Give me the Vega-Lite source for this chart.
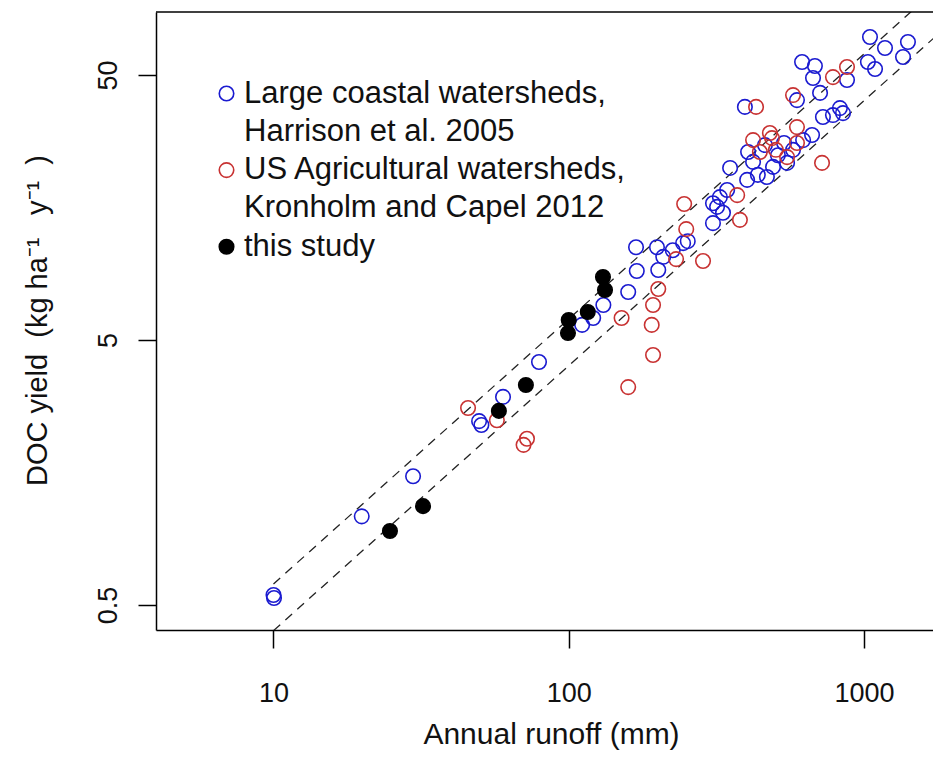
{
  "$schema": "https://vega.github.io/schema/vega-lite/v6.json",
  "width": 777,
  "height": 618,
  "autosize": {"type": "none"},
  "padding": {"left": 156, "top": 12, "right": 0, "bottom": 134},
  "background": "white",
  "config": {
    "view": {"stroke": null},
    "font": "Liberation Sans",
    "axis": {"grid": false, "domainColor": "#000", "domainWidth": 1.5, "tickColor": "#000", "tickWidth": 1.5, "tickSize": 18, "labelFont": "Liberation Sans", "labelFontSize": 27, "labelColor": "#111", "titleFont": "Liberation Sans", "titleFontSize": 29, "titleFontWeight": "normal", "titleColor": "#111", "labelFlush": false, "labelOverlap": false}
  },
  "datasets": {
    "points": [
      {"runoff": 10, "yield": 0.545, "source": "Large coastal watersheds, Harrison et al. 2005"},
      {"runoff": 10.04, "yield": 0.531, "source": "Large coastal watersheds, Harrison et al. 2005"},
      {"runoff": 19.9, "yield": 1.08, "source": "Large coastal watersheds, Harrison et al. 2005"},
      {"runoff": 29.7, "yield": 1.53, "source": "Large coastal watersheds, Harrison et al. 2005"},
      {"runoff": 49.7, "yield": 2.47, "source": "Large coastal watersheds, Harrison et al. 2005"},
      {"runoff": 50.6, "yield": 2.39, "source": "Large coastal watersheds, Harrison et al. 2005"},
      {"runoff": 59.9, "yield": 3.05, "source": "Large coastal watersheds, Harrison et al. 2005"},
      {"runoff": 79.3, "yield": 4.13, "source": "Large coastal watersheds, Harrison et al. 2005"},
      {"runoff": 111, "yield": 5.7, "source": "Large coastal watersheds, Harrison et al. 2005"},
      {"runoff": 121, "yield": 6.05, "source": "Large coastal watersheds, Harrison et al. 2005"},
      {"runoff": 131, "yield": 6.78, "source": "Large coastal watersheds, Harrison et al. 2005"},
      {"runoff": 159, "yield": 7.59, "source": "Large coastal watersheds, Harrison et al. 2005"},
      {"runoff": 170, "yield": 9.11, "source": "Large coastal watersheds, Harrison et al. 2005"},
      {"runoff": 201, "yield": 9.19, "source": "Large coastal watersheds, Harrison et al. 2005"},
      {"runoff": 169, "yield": 11.2, "source": "Large coastal watersheds, Harrison et al. 2005"},
      {"runoff": 199, "yield": 11.2, "source": "Large coastal watersheds, Harrison et al. 2005"},
      {"runoff": 209, "yield": 10.3, "source": "Large coastal watersheds, Harrison et al. 2005"},
      {"runoff": 225, "yield": 10.9, "source": "Large coastal watersheds, Harrison et al. 2005"},
      {"runoff": 244, "yield": 11.6, "source": "Large coastal watersheds, Harrison et al. 2005"},
      {"runoff": 253, "yield": 11.8, "source": "Large coastal watersheds, Harrison et al. 2005"},
      {"runoff": 308, "yield": 13.8, "source": "Large coastal watersheds, Harrison et al. 2005"},
      {"runoff": 308, "yield": 16.4, "source": "Large coastal watersheds, Harrison et al. 2005"},
      {"runoff": 333, "yield": 15.1, "source": "Large coastal watersheds, Harrison et al. 2005"},
      {"runoff": 318, "yield": 15.9, "source": "Large coastal watersheds, Harrison et al. 2005"},
      {"runoff": 325, "yield": 17.3, "source": "Large coastal watersheds, Harrison et al. 2005"},
      {"runoff": 344, "yield": 18.4, "source": "Large coastal watersheds, Harrison et al. 2005"},
      {"runoff": 402, "yield": 20.1, "source": "Large coastal watersheds, Harrison et al. 2005"},
      {"runoff": 352, "yield": 22.3, "source": "Large coastal watersheds, Harrison et al. 2005"},
      {"runoff": 421, "yield": 23.5, "source": "Large coastal watersheds, Harrison et al. 2005"},
      {"runoff": 437, "yield": 21.0, "source": "Large coastal watersheds, Harrison et al. 2005"},
      {"runoff": 469, "yield": 20.6, "source": "Large coastal watersheds, Harrison et al. 2005"},
      {"runoff": 492, "yield": 22.5, "source": "Large coastal watersheds, Harrison et al. 2005"},
      {"runoff": 549, "yield": 23.3, "source": "Large coastal watersheds, Harrison et al. 2005"},
      {"runoff": 575, "yield": 26.1, "source": "Large coastal watersheds, Harrison et al. 2005"},
      {"runoff": 622, "yield": 28.4, "source": "Large coastal watersheds, Harrison et al. 2005"},
      {"runoff": 667, "yield": 29.7, "source": "Large coastal watersheds, Harrison et al. 2005"},
      {"runoff": 462, "yield": 27.2, "source": "Large coastal watersheds, Harrison et al. 2005"},
      {"runoff": 405, "yield": 25.6, "source": "Large coastal watersheds, Harrison et al. 2005"},
      {"runoff": 511, "yield": 24.9, "source": "Large coastal watersheds, Harrison et al. 2005"},
      {"runoff": 536, "yield": 27.7, "source": "Large coastal watersheds, Harrison et al. 2005"},
      {"runoff": 395, "yield": 37.9, "source": "Large coastal watersheds, Harrison et al. 2005"},
      {"runoff": 593, "yield": 40.2, "source": "Large coastal watersheds, Harrison et al. 2005"},
      {"runoff": 710, "yield": 42.8, "source": "Large coastal watersheds, Harrison et al. 2005"},
      {"runoff": 726, "yield": 34.7, "source": "Large coastal watersheds, Harrison et al. 2005"},
      {"runoff": 785, "yield": 35.3, "source": "Large coastal watersheds, Harrison et al. 2005"},
      {"runoff": 829, "yield": 37.5, "source": "Large coastal watersheds, Harrison et al. 2005"},
      {"runoff": 849, "yield": 35.9, "source": "Large coastal watersheds, Harrison et al. 2005"},
      {"runoff": 617, "yield": 56.0, "source": "Large coastal watersheds, Harrison et al. 2005"},
      {"runoff": 682, "yield": 54.1, "source": "Large coastal watersheds, Harrison et al. 2005"},
      {"runoff": 672, "yield": 48.7, "source": "Large coastal watersheds, Harrison et al. 2005"},
      {"runoff": 876, "yield": 47.9, "source": "Large coastal watersheds, Harrison et al. 2005"},
      {"runoff": 1048, "yield": 69.6, "source": "Large coastal watersheds, Harrison et al. 2005"},
      {"runoff": 1409, "yield": 66.6, "source": "Large coastal watersheds, Harrison et al. 2005"},
      {"runoff": 1178, "yield": 63.2, "source": "Large coastal watersheds, Harrison et al. 2005"},
      {"runoff": 1356, "yield": 58.5, "source": "Large coastal watersheds, Harrison et al. 2005"},
      {"runoff": 1031, "yield": 56.0, "source": "Large coastal watersheds, Harrison et al. 2005"},
      {"runoff": 1090, "yield": 52.7, "source": "Large coastal watersheds, Harrison et al. 2005"},
      {"runoff": 45.6, "yield": 2.77, "source": "US Agricultural watersheds, Kronholm and Capel 2012"},
      {"runoff": 57.1, "yield": 2.49, "source": "US Agricultural watersheds, Kronholm and Capel 2012"},
      {"runoff": 70.3, "yield": 2.01, "source": "US Agricultural watersheds, Kronholm and Capel 2012"},
      {"runoff": 72.2, "yield": 2.12, "source": "US Agricultural watersheds, Kronholm and Capel 2012"},
      {"runoff": 151, "yield": 6.05, "source": "US Agricultural watersheds, Kronholm and Capel 2012"},
      {"runoff": 159, "yield": 3.32, "source": "US Agricultural watersheds, Kronholm and Capel 2012"},
      {"runoff": 191, "yield": 5.7, "source": "US Agricultural watersheds, Kronholm and Capel 2012"},
      {"runoff": 193, "yield": 4.39, "source": "US Agricultural watersheds, Kronholm and Capel 2012"},
      {"runoff": 193, "yield": 6.78, "source": "US Agricultural watersheds, Kronholm and Capel 2012"},
      {"runoff": 201, "yield": 7.79, "source": "US Agricultural watersheds, Kronholm and Capel 2012"},
      {"runoff": 231, "yield": 10.1, "source": "US Agricultural watersheds, Kronholm and Capel 2012"},
      {"runoff": 285, "yield": 9.93, "source": "US Agricultural watersheds, Kronholm and Capel 2012"},
      {"runoff": 246, "yield": 16.3, "source": "US Agricultural watersheds, Kronholm and Capel 2012"},
      {"runoff": 250, "yield": 13.1, "source": "US Agricultural watersheds, Kronholm and Capel 2012"},
      {"runoff": 372, "yield": 17.6, "source": "US Agricultural watersheds, Kronholm and Capel 2012"},
      {"runoff": 380, "yield": 14.2, "source": "US Agricultural watersheds, Kronholm and Capel 2012"},
      {"runoff": 721, "yield": 23.3, "source": "US Agricultural watersheds, Kronholm and Capel 2012"},
      {"runoff": 431, "yield": 37.9, "source": "US Agricultural watersheds, Kronholm and Capel 2012"},
      {"runoff": 421, "yield": 28.4, "source": "US Agricultural watersheds, Kronholm and Capel 2012"},
      {"runoff": 488, "yield": 28.9, "source": "US Agricultural watersheds, Kronholm and Capel 2012"},
      {"runoff": 480, "yield": 30.2, "source": "US Agricultural watersheds, Kronholm and Capel 2012"},
      {"runoff": 593, "yield": 31.8, "source": "US Agricultural watersheds, Kronholm and Capel 2012"},
      {"runoff": 444, "yield": 25.6, "source": "US Agricultural watersheds, Kronholm and Capel 2012"},
      {"runoff": 503, "yield": 26.1, "source": "US Agricultural watersheds, Kronholm and Capel 2012"},
      {"runoff": 593, "yield": 27.7, "source": "US Agricultural watersheds, Kronholm and Capel 2012"},
      {"runoff": 549, "yield": 24.5, "source": "US Agricultural watersheds, Kronholm and Capel 2012"},
      {"runoff": 575, "yield": 42.0, "source": "US Agricultural watersheds, Kronholm and Capel 2012"},
      {"runoff": 785, "yield": 49.1, "source": "US Agricultural watersheds, Kronholm and Capel 2012"},
      {"runoff": 876, "yield": 53.6, "source": "US Agricultural watersheds, Kronholm and Capel 2012"},
      {"runoff": 24.8, "yield": 0.951, "source": "this study"},
      {"runoff": 32.1, "yield": 1.18, "source": "this study"},
      {"runoff": 58.0, "yield": 2.7, "source": "this study"},
      {"runoff": 71.6, "yield": 3.38, "source": "this study"},
      {"runoff": 99.4, "yield": 5.31, "source": "this study"},
      {"runoff": 100, "yield": 5.95, "source": "this study"},
      {"runoff": 116, "yield": 6.38, "source": "this study"},
      {"runoff": 130.6, "yield": 8.64, "source": "this study"},
      {"runoff": 132.7, "yield": 7.72, "source": "this study"}
    ],
    "guides": [
      {"runoff": 10, "yield": 0.6, "line": "upper"},
      {"runoff": 2000, "yield": 120, "line": "upper"},
      {"runoff": 10, "yield": 0.4, "line": "lower"},
      {"runoff": 2000, "yield": 80, "line": "lower"}
    ]
  },
  "layer": [
    {
      "data": {"name": "guides"},
      "mark": {"type": "line", "color": "#222", "strokeWidth": 1.3, "strokeDash": [9, 7], "clip": true},
      "encoding": {
        "x": {"field": "runoff", "type": "quantitative"},
        "y": {"field": "yield", "type": "quantitative"},
        "detail": {"field": "line"}
      }
    },
    {
      "data": {"values": [{}]},
      "mark": {"type": "rule", "color": "#000", "strokeWidth": 1.5},
      "encoding": {"y": {"datum": 86.45, "type": "quantitative"}}
    },
    {
      "data": {"name": "points"},
      "mark": {"type": "point", "shape": "circle", "size": 210, "strokeWidth": 1.6, "opacity": 1, "clip": true},
      "encoding": {
        "x": {
          "field": "runoff", "type": "quantitative",
          "scale": {"type": "log", "domain": [4.0, 1713], "nice": false, "zero": false},
          "axis": {"values": [10, 100, 1000], "format": "d", "title": "Annual runoff (mm)", "titleFontSize": 30, "labelBaseline": "alphabetic", "labelPadding": 53, "titleX": 395, "titleY": 113, "titleAlign": "center", "titleBaseline": "alphabetic"}
        },
        "y": {
          "field": "yield", "type": "quantitative",
          "scale": {"type": "log", "domain": [0.4023, 86.45], "nice": false, "zero": false},
          "axis": {"values": [0.5, 5, 50], "format": "~g", "title": "DOC yield\u00a0 (kg ha⁻¹\u2002 y⁻¹\u00a0 )", "labelAngle": 270, "labelAlign": "center", "labelBaseline": "alphabetic", "labelPadding": 22, "titleX": -110, "titleY": 308, "titleAngle": 270, "titleAlign": "center", "titleBaseline": "alphabetic"}
        },
        "stroke": {
          "field": "source", "type": "nominal",
          "scale": {"domain": ["Large coastal watersheds, Harrison et al. 2005", "Harrison et al. 2005", "US Agricultural watersheds, Kronholm and Capel 2012", "Kronholm and Capel 2012", "this study"], "range": ["#1a1ad0", "transparent", "#c83232", "transparent", "#000000"]},
          "legend": {"title": null, "orient": "none", "legendX": 55, "legendY": 66, "padding": 0, "rowPadding": 6.3, "labelFont": "Liberation Sans", "labelFontSize": 31, "labelColor": "#111", "labelLimit": 0, "labelOffset": 2, "labelBaseline": "middle", "symbolType": "circle", "symbolSize": 210, "symbolStrokeWidth": 1.6, "labelExpr": "indexof(datum.label, ', ') > 0 ? slice(datum.label, 0, indexof(datum.label, ', ') + 1) : datum.label"}
        },
        "fill": {
          "field": "source", "type": "nominal",
          "scale": {"domain": ["Large coastal watersheds, Harrison et al. 2005", "Harrison et al. 2005", "US Agricultural watersheds, Kronholm and Capel 2012", "Kronholm and Capel 2012", "this study"], "range": ["transparent", "transparent", "transparent", "transparent", "#000000"]},
          "legend": {"title": null, "orient": "none", "legendX": 55, "legendY": 66, "padding": 0, "rowPadding": 6.3, "labelFont": "Liberation Sans", "labelFontSize": 31, "labelColor": "#111", "labelLimit": 0, "labelOffset": 2, "labelBaseline": "middle", "symbolType": "circle", "symbolSize": 210, "symbolStrokeWidth": 1.6, "labelExpr": "indexof(datum.label, ', ') > 0 ? slice(datum.label, 0, indexof(datum.label, ', ') + 1) : datum.label"}
        }
      }
    }
  ]
}
